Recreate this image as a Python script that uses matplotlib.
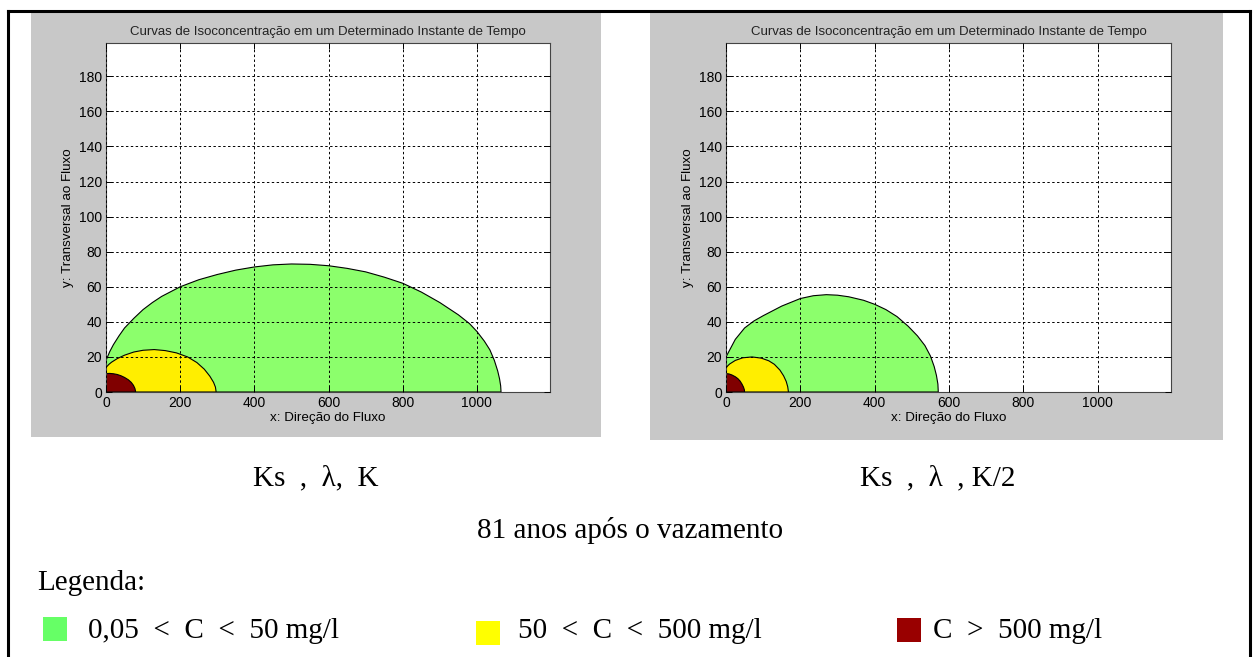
import matplotlib
matplotlib.use("Agg")
import matplotlib.pyplot as plt
from matplotlib.patches import Rectangle
from matplotlib.lines import Line2D

W, H = 1253, 657

# contornos (x, y) - caso K
k_verde_x = [0, 5, 10, 20, 35, 50, 75, 100, 125, 150, 200, 250, 300, 350, 400, 450, 500, 550, 600, 650, 700, 750, 800, 850, 900, 950, 980, 1000, 1020, 1035, 1047, 1056, 1061, 1064, 1065]
k_verde_y = [18, 20.5, 23, 27, 32, 36.5, 42, 47, 51, 54.5, 60, 64, 67, 69.5, 71.3, 72.5, 73, 72.8, 72, 70.5, 68.5, 65.5, 62, 57, 51, 44, 39, 34.5, 29, 24, 18, 12, 7.5, 3.5, 0]
k_amarelo_x = [0, 8, 15, 30, 50, 75, 100, 130, 160, 190, 220, 245, 265, 280, 290, 295, 297]
k_amarelo_y = [14, 15.8, 17, 19, 21, 22.8, 23.8, 24.2, 23.6, 22.3, 20, 16.8, 13, 9, 5.5, 2.8, 0]
k_vermelho_x = [0, 10, 20, 30, 40, 50, 60, 68, 74, 78, 80]
k_vermelho_y = [10.5, 10.6, 10.4, 10, 9.3, 8.3, 7, 5.5, 3.8, 2, 0]

# caso K/2
k2_verde_x = [0, 5, 10, 25, 50, 75, 100, 150, 200, 235, 270, 300, 330, 370, 400, 430, 460, 490, 515, 535, 550, 560, 566, 570, 571]
k2_verde_y = [20, 22, 24, 30, 36.5, 40.5, 43.5, 49, 53.3, 54.9, 55.5, 55.2, 54.3, 52.3, 50, 47, 43, 37.5, 32, 26.5, 20.5, 14.5, 9.5, 4.5, 0]
k2_amarelo_x = [0, 5, 10, 25, 45, 70, 95, 115, 130, 145, 155, 162, 166, 168]
k2_amarelo_y = [13.7, 15, 16, 18, 19.5, 20, 19.3, 17.8, 15.8, 12.5, 9.2, 6, 3, 0]
k2_vermelho_x = [0, 8, 16, 25, 32, 38, 43, 47, 49.5, 50]
k2_vermelho_y = [10.5, 10.3, 9.7, 8.7, 7.6, 6.2, 4.5, 2.8, 1.2, 0]

x_ticks = [0, 200, 400, 600, 800, 1000]
y_ticks = [0, 20, 40, 60, 80, 100, 120, 140, 160, 180]

titulo = "Curvas de Isoconcentração em um Determinado Instante de Tempo"
cor_verde = "#8cff6c"
cor_amarelo = "#ffee00"
cor_vermelho = "#800000"

fig = plt.figure(figsize=(W / 100, H / 100), dpi=100)
fig.patch.set_facecolor("white")


def fx(px):
    return px / W


def fy(py):
    return 1 - py / H


# moldura externa
for xs, ys in [([8, 8], [11, H + 5]), ([8, 1250], [11, 11]), ([1250, 1250], [11, H + 5])]:
    fig.add_artist(Line2D([fx(v) for v in xs], [fy(v) for v in ys], color="black", lw=2.2))

sans = ["Liberation Sans", "DejaVu Sans"]


def painel(x0, x1, y1, ax_l, ax_r, dados):
    fig.add_artist(Rectangle((fx(x0), fy(y1)), fx(x1) - fx(x0), fy(12) - fy(y1),
                             facecolor="#c8c8c8", edgecolor="none", zorder=0))
    ax = fig.add_axes([fx(ax_l), fy(392), fx(ax_r) - fx(ax_l), fy(43) - fy(392)])
    ax.set_facecolor("white")
    for xs, ys, cor in dados:
        ax.fill(xs + [0], ys + [0], facecolor=cor, edgecolor="black", lw=0.8, zorder=2)
    ax.set_xlim(0, 1197)
    ax.set_ylim(0, 199)
    ax.set_xticks(x_ticks)
    ax.set_yticks(y_ticks)
    ax.grid(True, color="black", linestyle=(0, (2.5, 2.5)), lw=0.7, zorder=3)
    ax.set_axisbelow(False)
    ax.tick_params(direction="in", top=True, right=True, length=4, width=0.7,
                   labelsize=10, pad=3)
    for lab in ax.get_xticklabels() + ax.get_yticklabels():
        lab.set_family(sans)
    for s in ax.spines.values():
        s.set_linewidth(0.8)
        s.set_color("#444444")
    ax.set_title(titulo, fontsize=9.5, family=sans, pad=6, color="#222222")
    ax.set_xlabel("x: Direção do Fluxo", fontsize=9.6, family=sans, labelpad=1)
    ax.set_ylabel("y: Transversal ao Fluxo", fontsize=9.6, family=sans, labelpad=3)
    return ax


painel(31, 601, 437, 106, 550, [(k_verde_x, k_verde_y, cor_verde),
                                 (k_amarelo_x, k_amarelo_y, cor_amarelo),
                                 (k_vermelho_x, k_vermelho_y, cor_vermelho)])
painel(650, 1223, 440, 726, 1171, [(k2_verde_x, k2_verde_y, cor_verde),
                                    (k2_amarelo_x, k2_amarelo_y, cor_amarelo),
                                    (k2_vermelho_x, k2_vermelho_y, cor_vermelho)])

serif = ["Liberation Serif", "DejaVu Serif"]
fs = 21

fig.text(fx(316), fy(485), "Ks  ,  λ,  K", ha="center", va="baseline", fontsize=fs, family=serif)
fig.text(fx(938), fy(485), "Ks  ,  λ  , K/2", ha="center", va="baseline", fontsize=fs, family=serif)
fig.text(fx(630), fy(538), "81 anos após o vazamento", ha="center", va="baseline", fontsize=fs, family=serif)
fig.text(fx(37), fy(590), "Legenda:", ha="left", va="baseline", fontsize=fs, family=serif)

legenda = [(43, 617, "#66ff66", 88, "0,05  <  C  <  50 mg/l"),
           (476, 621, "#ffff00", 518, "50  <  C  <  500 mg/l"),
           (897, 618, "#990000", 933, "C  >  500 mg/l")]
for sx, sy, cor, tx, txt in legenda:
    fig.add_artist(Rectangle((fx(sx), fy(sy + 24)), fx(24), 24 / H, facecolor=cor, edgecolor="none"))
    fig.text(fx(tx), fy(638), txt, ha="left", va="baseline", fontsize=fs, family=serif)

fig.savefig("out.png", dpi=100)
